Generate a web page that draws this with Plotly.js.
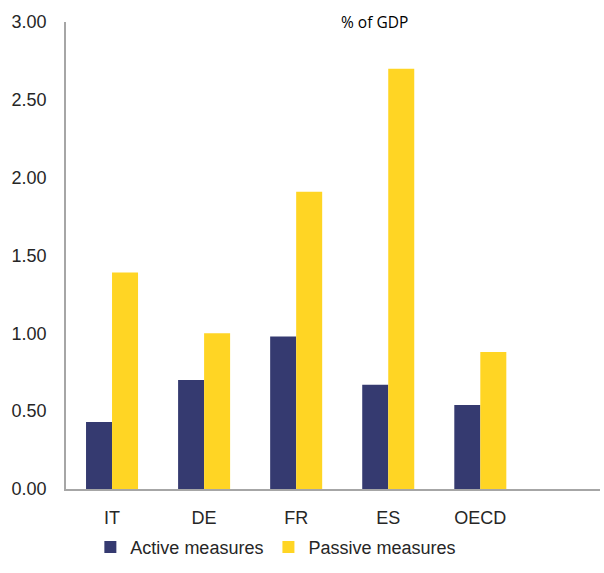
<!DOCTYPE html>
<html><head><meta charset="utf-8">
<script src="https://cdn.plot.ly/plotly-3.0.1.min.js"></script>
<style>html,body{margin:0;padding:0;background:#fff}#chart{width:604px;height:573px}</style>
</head><body><div id="chart"></div>
<script>
const categories = ["IT", "DE", "FR", "ES", "OECD"];
const activeMeasures = [0.43, 0.70, 0.98, 0.67, 0.54];
const passiveMeasures = [1.39, 1.00, 1.91, 2.70, 0.88];
const yTickVals = [0, 0.5, 1, 1.5, 2, 2.5, 3];
const yTickText = ["0.00", "0.50", "1.00", "1.50", "2.00", "2.50", "3.00"];

const traces = [
  {type: "bar", name: "Active measures", x: categories, y: activeMeasures,
   marker: {color: "#353A70"}},
  {type: "bar", name: "Passive measures", x: categories, y: passiveMeasures,
   marker: {color: "#FFD524"}}
];
const layout = {
  width: 604, height: 573,
  margin: {l: 66, r: 4, t: 22, b: 84},
  paper_bgcolor: "#fff", plot_bgcolor: "#fff",
  barmode: "group", bargap: 0.435, bargroupgap: 0,
  font: {family: "Liberation Sans, Arial, sans-serif", size: 18, color: "#262626"},
  xaxis: {type: "category", range: [-0.5, 5.3], showline: true, linecolor: "#A6A6A6", linewidth: 1.5,
          ticks: "", showgrid: false, ticklabelstandoff: 12, automargin: false,
          tickfont: {size: 18, color: "#262626"}},
  yaxis: {range: [0, 3], tickvals: yTickVals, ticktext: yTickText, showline: true, linecolor: "#A6A6A6",
          linewidth: 1.5, showgrid: false, zeroline: false, ticks: "", ticklabelstandoff: 14, automargin: false,
          tickfont: {size: 18, color: "#262626"}},
  showlegend: true,
  legend: {orientation: "h", x: 0.393, xanchor: "center", xref: "paper",
           yref: "container", y: 0.045, yanchor: "middle", bgcolor: "rgba(0,0,0,0)",
           font: {size: 18, color: "#262626"}, itemwidth: 30, tracegroupgap: 0},
  annotations: [{text: "% of GDP", xref: "paper", yref: "paper", x: 0.578, y: 1.0, xanchor: "center",
                 yanchor: "middle", showarrow: false, font: {family: "Open Sans, sans-serif", size: 15.5, color: "#000"}}]
};
Plotly.newPlot("chart", traces, layout, {displayModeBar: false});
</script></body></html>
